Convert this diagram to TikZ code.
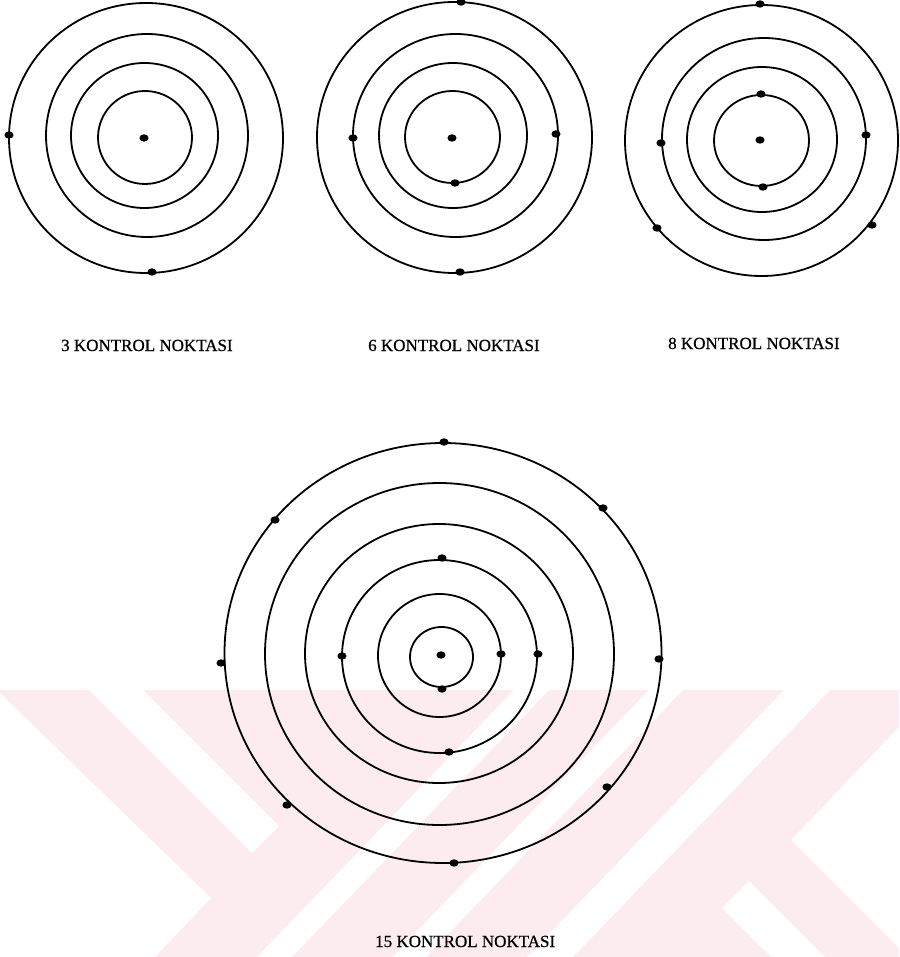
\documentclass[tikz,border=0pt]{standalone}
\usepackage{fontspec}
\setmainfont{Liberation Serif}[FakeBold=0.8]
\definecolor{wm}{RGB}{252,236,239}
\begin{document}
\begin{tikzpicture}[x=1pt,y=-1pt,
  ring/.style={line width=1.8pt, black},
  pt/.style={fill=black},
  lbl/.style={font=\fontsize{17}{20}\selectfont, inner sep=0pt, anchor=base west}]
\useasboundingbox (0,0) rectangle (899,957);
\fill[white] (0,0) rectangle (899,957);
% --- watermark ---
\fill[wm] (0,690) rectangle (899,957);
\fill[white] (0,693) -- (211,898) -- (155,957) -- (0,957) -- cycle;
\fill[white] (89,690) -- (143,690) -- (279,826) -- (252,853) -- cycle;
\fill[white] (257,957) -- (292,957) -- (549,690) -- (514,690) -- cycle;
\fill[white] (392,957) -- (426,957) -- (683,690) -- (649,690) -- cycle;
\fill[white] (527,957) -- (573,957) -- (830,690) -- (784,690) -- cycle;
\fill[white] (722,908) -- (749,881) -- (825,957) -- (771,957) -- cycle;
\fill[white] (899,727) -- (791,840) -- (899,948) -- cycle;
% --- diagram 1: 3 points ---
\draw[ring] (146,138) ellipse [x radius=137, y radius=135];
\draw[ring] (147,135.5) ellipse [x radius=101, y radius=101.5];
\draw[ring] (144.5,135.5) ellipse [x radius=73.5, y radius=72.5];
\draw[ring] (145,137.5) ellipse [x radius=47, y radius=46.5];
\foreach \p in {(144,138),(9,135),(152,272)}
  \fill[pt] \p ellipse [x radius=4.6, y radius=3.7];
% --- diagram 2: 6 points ---
\draw[ring] (454.5,137.5) ellipse [x radius=137.5, y radius=135.5];
\draw[ring] (455.5,135.5) ellipse [x radius=102.5, y radius=101.5];
\draw[ring] (453,135.5) ellipse [x radius=74, y radius=72.5];
\draw[ring] (452.5,137) ellipse [x radius=47.5, y radius=46];
\foreach \p in {(452,138),(461,2),(353,138),(556,134),(455,183),(460,272)}
  \fill[pt] \p ellipse [x radius=4.6, y radius=3.7];
% --- diagram 3: 8 points ---
\draw[ring] (761.5,140.5) ellipse [x radius=136.5, y radius=135.5];
\draw[ring] (764,139) ellipse [x radius=102, y radius=101];
\draw[ring] (762,139.5) ellipse [x radius=75, y radius=72.5];
\draw[ring] (761.5,140.5) ellipse [x radius=47.5, y radius=45.5];
\foreach \p in {(760,140),(760,4),(761,94),(763,187),(661,143),(866,135),(657,228),(872,225)}
  \fill[pt] \p ellipse [x radius=4.6, y radius=3.7];
% --- diagram 4: 15 points ---
\draw[ring] (443,653) ellipse [x radius=218.5, y radius=210];
\draw[ring] (439.5,654) ellipse [x radius=174.5, y radius=171];
\draw[ring] (439,653.5) ellipse [x radius=134, y radius=129.5];
\draw[ring] (439.5,656.5) ellipse [x radius=97.5, y radius=96.5];
\draw[ring] (439.5,655.5) ellipse [x radius=61.5, y radius=61.5];
\draw[ring] (441.5,657) ellipse [x radius=31.5, y radius=30];
\foreach \p in {(441,655),(442,689),(501,654),(342,656),(538,654),(442,558),(449,752),
  (444,442),(275,520),(603,508),(221,663),(659,659),(287,805),(607,787),(454,863)}
  \fill[pt] \p ellipse [x radius=4.6, y radius=3.7];
% --- labels ---
\node[lbl] (l3) at (61,351) {3 KONTROL NOKTASI};
\node[lbl] (l6) at (368,351) {6 KONTROL NOKTASI};
\node[lbl] (l8) at (668,349) {8 KONTROL NOKTASI};
\node[lbl] (l15) at (375,947) {15 KONTROL NOKTASI};
\end{tikzpicture}
\end{document}
